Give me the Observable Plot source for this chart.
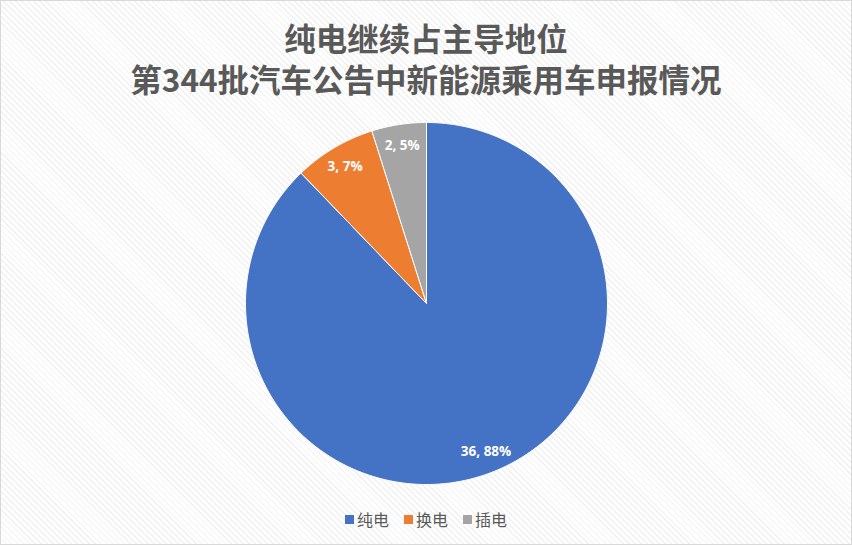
<!DOCTYPE html>
<html>
<head>
<meta charset="utf-8">
<script src="https://cdn.jsdelivr.net/npm/d3@7"></script>
<script src="https://cdn.jsdelivr.net/npm/@observablehq/plot@0.6"></script>
<style>
  html, body { margin: 0; padding: 0; background: #fff; }
  #frame {
    position: relative; width: 852px; height: 545px; box-sizing: border-box;
    border: 1px solid #d9d9d9; overflow: hidden;
    background: repeating-linear-gradient(45deg, #ffffff 0px, #ffffff 3px, #f1f1f1 3px, #f1f1f1 4.2px);
    font-family: "Noto Sans CJK SC", "Noto Sans", sans-serif;
  }
  .title {
    position: absolute; left: 0; width: 100%; text-align: center;
    font-size: 31.5px; font-weight: bold; line-height: 36px; color: #595959;
  }
  #t1 { top: 17.5px; }
  #t2 { top: 58.5px; }
  #chart { position: absolute; left: 0; top: 0; }
  #legend {
    position: absolute; left: 0; top: 506px; width: 100%;
    display: flex; justify-content: center;
  }
  .lg-swatches-wrap { margin-left: 0 !important; min-height: 0 !important; justify-content: center; }
  .lg-swatch { margin-right: 15px !important; }
  .lg-swatch:last-child { margin-right: 0 !important; }
  .lg-swatch > svg { margin-right: 3px !important; }
</style>
</head>
<body>
<div id="frame">
  <div id="chart"></div>
  <div class="title" id="t1">纯电继续占主导地位</div>
  <div class="title" id="t2">第344批汽车公告中新能源乘用车申报情况</div>
  <div id="legend"></div>
</div>
<script>
const categories = ["纯电", "换电", "插电"];
const values = [36, 3, 2];
const colors = ["#4472c4", "#ed7d31", "#a5a5a5"];

const W = 850, H = 543;
const cx = 425, cy = 302, R = 181;
const labelRadius = 0.88;

const rows = categories.map((c, i) => ({cat: c, value: values[i]}));
const total = d3.sum(values);
const arcs = d3.pie().sort(null).value(d => d.value)(rows);

// slice outlines in unit-circle data coordinates
const slicePts = [];
arcs.forEach(a => {
  const n = Math.max(4, Math.ceil((a.endAngle - a.startAngle) / 0.01));
  slicePts.push({cat: a.data.cat, x: 0, y: 0});
  for (let k = 0; k <= n; k++) {
    const t = a.startAngle + (a.endAngle - a.startAngle) * k / n;
    slicePts.push({cat: a.data.cat, x: Math.sin(t), y: Math.cos(t)});
  }
  slicePts.push({cat: a.data.cat, x: 0, y: 0});
});

const labels = arcs.map(a => {
  const m = (a.startAngle + a.endAngle) / 2;
  return {
    x: labelRadius * Math.sin(m),
    y: labelRadius * Math.cos(m),
    text: `${a.data.value}, ${Math.round(a.data.value / total * 100)}%`
  };
});

const colorScale = {domain: categories, range: colors};

const chart = Plot.plot({
  width: W, height: H,
  margin: 0,
  style: {background: "transparent", overflow: "visible"},
  x: {domain: [-cx / R, (W - cx) / R], axis: null},
  y: {domain: [-(H - cy) / R, cy / R], axis: null},
  color: colorScale,
  marks: [
    Plot.line(slicePts, {x: "x", y: "y", z: "cat", fill: "cat", stroke: "#ffffff", strokeWidth: 1, curve: "linear"}),
    Plot.text(labels, {
      x: "x", y: "y", text: "text", fill: "#ffffff",
      fontSize: 13.5, fontWeight: "bold",
      fontFamily: "'Open Sans', 'Noto Sans', sans-serif"
    })
  ]
});
document.getElementById("chart").appendChild(chart);

const legend = Plot.legend({
  color: colorScale,
  legend: "swatches",
  swatchSize: 9,
  className: "lg",
  style: {fontSize: "16px", color: "#595959", fontFamily: "'Noto Sans CJK SC', sans-serif", background: "transparent"}
});
document.getElementById("legend").appendChild(legend);
</script>
</body>
</html>
